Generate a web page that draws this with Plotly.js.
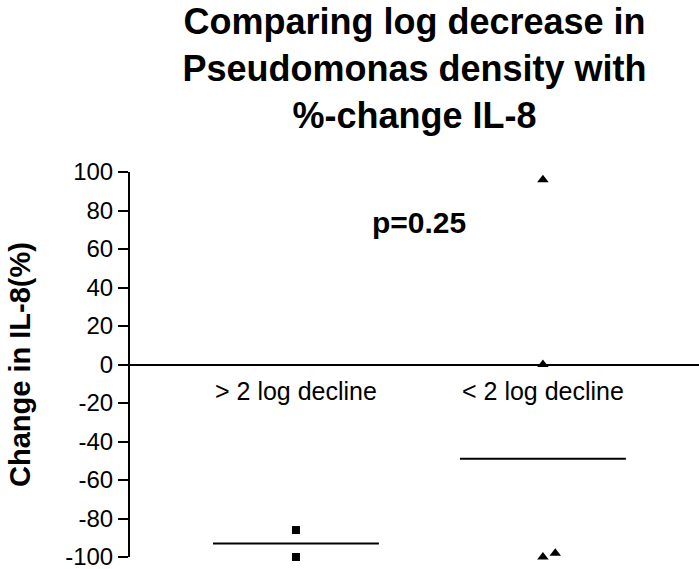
<!DOCTYPE html>
<html>
<head>
<meta charset="utf-8">
<script src="https://cdn.plot.ly/plotly-3.0.1.min.js"></script>
<style>html,body{margin:0;padding:0;background:#fff;}#chart{width:699px;height:569px;}</style>
</head>
<body>
<div id="chart"></div>
<script>
// ---- data ----
const categories = ["> 2 log decline", "< 2 log decline"];
const categoryPos = [1, 2];
const highDeclineValues = [-86, -100];          // squares, > 2 log decline
const highDeclineJitter = [0, 0];
const lowDeclineValues = [96, 0, -100, -98];     // triangles, < 2 log decline
const lowDeclineJitter = [0, 0, 0, 0.05];
const medians = [-93, -49];
const yTicks = [-100, -80, -60, -40, -20, 0, 20, 40, 60, 80, 100];
const pText = "p=0.25";

const medianHalfWidth = 0.336;
const font = "Arial, 'Liberation Sans', sans-serif";

const traces = [
  {
    x: highDeclineValues.map((v, i) => categoryPos[0] + highDeclineJitter[i]),
    y: highDeclineValues,
    mode: "markers", type: "scatter",
    marker: {symbol: "square", size: 8, color: "#000"},
    cliponaxis: false, showlegend: false, hoverinfo: "y"
  },
  {
    x: lowDeclineValues.map((v, i) => categoryPos[1] + lowDeclineJitter[i]),
    y: lowDeclineValues,
    mode: "markers", type: "scatter",
    marker: {symbol: "triangle-up", size: 10, color: "#000"},
    cliponaxis: false, showlegend: false, hoverinfo: "y"
  }
];
medians.forEach((m, i) => {
  traces.push({
    x: [categoryPos[i] - medianHalfWidth, categoryPos[i] + medianHalfWidth],
    y: [m, m],
    mode: "lines", type: "scatter",
    line: {color: "#000", width: 2},
    cliponaxis: false, showlegend: false, hoverinfo: "skip"
  });
});

const annotations = categories.map((c, i) => ({
  x: categoryPos[i], y: 0, xref: "x", yref: "y",
  text: c, showarrow: false, yanchor: "top", yshift: -10,
  font: {family: font, size: 25, color: "#000"}
}));
annotations.push({
  x: (categoryPos[0] + categoryPos[1]) / 2, y: 74, xref: "x", yref: "y",
  text: "<b>" + pText + "</b>", showarrow: false,
  font: {family: font, size: 30, color: "#000"}
});

const layout = {
  width: 699, height: 569,
  margin: {l: 130, r: 0, t: 172, b: 12, pad: 0},
  paper_bgcolor: "#fff", plot_bgcolor: "#fff",
  title: {
    text: "<b>Comparing log decrease in<br>Pseudomonas density with<br>%-change IL-8</b>",
    font: {family: font, size: 36, color: "#000"},
    x: 0.5, xref: "paper", xanchor: "center",
    y: 0.94, yref: "container", yanchor: "top"
  },
  xaxis: {
    range: [0.328, 2.632], visible: false, fixedrange: true
  },
  yaxis: {
    range: [-100, 100], tickvals: yTicks, ticktext: yTicks.map(String),
    ticklabeloverflow: "allow",
    showgrid: false, zeroline: true, zerolinecolor: "#000", zerolinewidth: 2,
    showline: true, linecolor: "#000", linewidth: 2,
    ticks: "outside", ticklen: 10, tickwidth: 2, tickcolor: "#000",
    tickfont: {family: font, size: 24, color: "#000"},
    title: {text: "<b>Change in IL-8(%)</b>", font: {family: font, size: 29, color: "#000"}, standoff: 26},
    automargin: false, fixedrange: true
  },
  annotations: annotations,
  showlegend: false
};

Plotly.newPlot("chart", traces, layout, {displayModeBar: false, staticPlot: true});
</script>
</body>
</html>
